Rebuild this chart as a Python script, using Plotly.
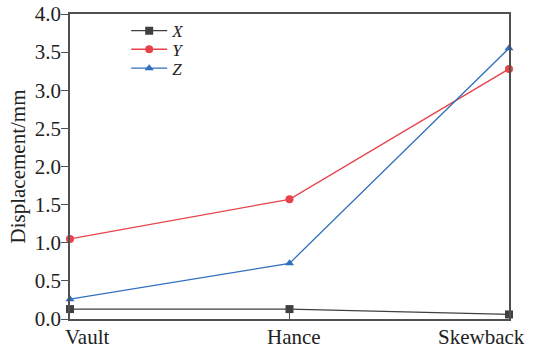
import plotly.graph_objects as go

categories = ["Vault", "Hance", "Skewback"]
x_vals = [0.13, 0.13, 0.06]
y_vals = [1.05, 1.57, 3.28]
z_vals = [0.26, 0.73, 3.55]
series_names = ["X", "Y", "Z"]
colors = ["#404040", "#e8434a", "#2f6fbe"]
symbols = ["square", "circle", "triangle-up"]

FONT = "Liberation Serif, Times New Roman, serif"
FS = 21

fig = go.Figure()
legend_ids = ["legend", "legend2", "legend3"]
for name, vals, c, s, lg in zip(series_names, [x_vals, y_vals, z_vals], colors, symbols, legend_ids):
    fig.add_trace(go.Scatter(
        x=categories, y=vals, name=name, mode="lines+markers",
        line=dict(color=c, width=1.3),
        marker=dict(color=c, symbol=s, size=8),
        cliponaxis=False, legend=lg,
    ))

anchors = ["left", "center", "right"]
shifts = [-7, 4, 18]
for cat, a, sh in zip(categories, anchors, shifts):
    fig.add_annotation(x=cat, y=0, xref="x", yref="y", text=cat, showarrow=False,
                       xanchor=a, yanchor="top", yshift=-4, xshift=sh,
                       font=dict(family=FONT, size=FS, color="#222"))

leg_common = dict(xanchor="left", yanchor="middle", bgcolor="rgba(0,0,0,0)",
                  font=dict(family=FONT, size=17, style="italic", color="#222"),
                  itemwidth=36)
leg_y = [0.944, 0.883, 0.821]
fig.update_layout(
    width=534, height=350,
    margin=dict(l=70, r=25, t=14, b=31, autoexpand=False),
    plot_bgcolor="white", paper_bgcolor="white",
    font=dict(family=FONT, size=FS, color="#222"),
    showlegend=True,
    legend=dict(x=0.128, y=leg_y[0], **leg_common),
    legend2=dict(x=0.128, y=leg_y[1], **leg_common),
    legend3=dict(x=0.128, y=leg_y[2], **leg_common),
)
fig.update_xaxes(
    type="category", range=[0, 2], showgrid=False, automargin=False,
    showline=True, linecolor="#505050", linewidth=1.5, mirror=True,
    ticks="inside", ticklen=6, tickcolor="#505050", showticklabels=False,
)
fig.update_yaxes(
    range=[0, 4], dtick=0.5, tickformat=".1f", showgrid=False, zeroline=False,
    automargin=False,
    showline=True, linecolor="#505050", linewidth=1.5, mirror=True,
    ticks="outside", ticklen=7, tickcolor="#505050", ticklabelstandoff=-4,
    title=dict(text="Displacement/mm", font=dict(family=FONT, size=FS), standoff=3),
    tickfont=dict(family=FONT, size=FS),
)
fig.write_html("out.html", config={"displayModeBar": False},
               post_script="document.body.style.margin='0';document.body.style.padding='0';")
